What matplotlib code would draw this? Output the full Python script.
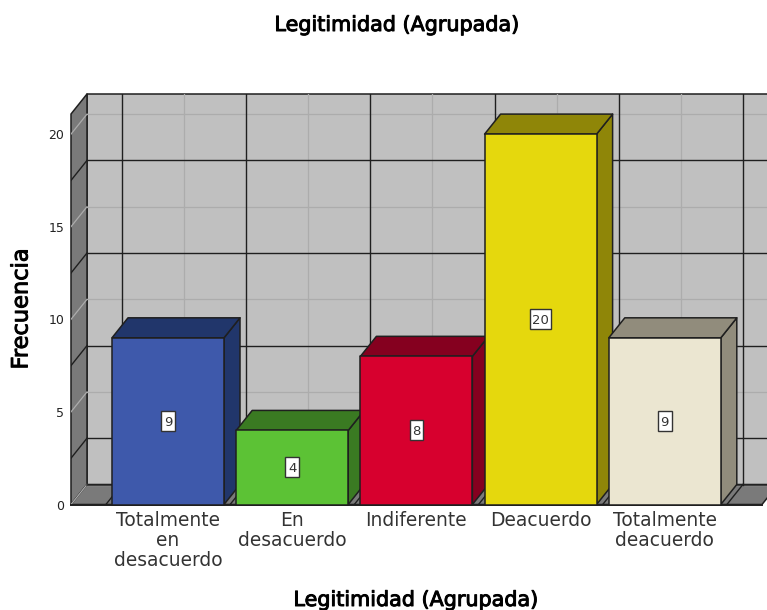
import matplotlib
matplotlib.use("Agg")
import matplotlib.pyplot as plt
import matplotlib.patheffects as pe
from matplotlib.patches import Polygon, Rectangle

# ----------- Data ------------
categories = ["Totalmente\nen\ndesacuerdo", "En\ndesacuerdo", "Indiferente", "Deacuerdo", "Totalmente\ndeacuerdo"]
counts = [9, 4, 8, 20, 9]
front_colors = ["#3e59ab", "#5cc235", "#d7002e", "#e5d80d", "#ebe6d1"]
side_colors = ["#21366b", "#3a7a22", "#85001f", "#8f8608", "#918c7c"]
y_ticks = [0, 5, 10, 15, 20]
y_minor = [2.5, 7.5, 12.5, 17.5]
# -----------------------------

W, H = 767, 610
PX_X = 124.2   # pixels per category
PX_Y = 18.52   # pixels per count
DX = 16 / PX_X  # depth of the 3d effect in data units
DY = 20 / PX_Y
BAR_W = 112 / PX_X
X_MIN = (71 - 168) / PX_X
X_MAX = (767 - 168) / PX_X
Y_MAX = 410.5 / PX_Y
TOP = Y_MAX - DY
FLOOR_END = (762 - 168) / PX_X
DARK = "#1f1f1f"
LIGHT = "#acacac"

fig = plt.figure(figsize=(W / 100, H / 100), dpi=100)
ax = fig.add_axes([71 / W, (H - 504.5) / H, (W - 71) / W, 410.5 / H])
ax.set_xlim(X_MIN, X_MAX)
ax.set_ylim(0, Y_MAX)
for s in ax.spines.values():
    s.set_visible(False)


def face(pts, color, z=1, edge=DARK, lw=1.1):
    ax.add_patch(Polygon(pts, closed=True, facecolor=color, edgecolor=edge, linewidth=lw,
                         zorder=z, clip_on=False, joinstyle="round"))


# walls
back_l = X_MIN + DX
face([(back_l, DY), (X_MAX + 1, DY), (X_MAX + 1, Y_MAX), (back_l, Y_MAX)], "#c0c0c0", 1)
face([(X_MIN, 0), (back_l, DY), (back_l, Y_MAX), (X_MIN, TOP)], "#7a7a7a", 1)
face([(X_MIN, 0), (FLOOR_END, 0), (FLOOR_END + DX, DY), (back_l, DY)], "#7a7a7a", 1)

# grid on the back wall, side wall and floor
for i in range(len(categories)):
    ax.plot([i + DX] * 2, [DY, Y_MAX], color=LIGHT, lw=0.9, zorder=2)
for v in y_ticks:
    ax.plot([back_l, X_MAX], [v + DY] * 2, color=LIGHT, lw=0.9, zorder=2)
    ax.plot([X_MIN, back_l], [v, v + DY], color=LIGHT, lw=0.9, zorder=2)
for i in range(len(categories) + 1):
    x = i - 0.5 + DX
    ax.plot([x, x], [DY, Y_MAX], color=DARK, lw=1.0, zorder=2.1)
    ax.plot([x - DX, x], [0, DY], color=DARK, lw=1.0, zorder=2.1)
for v in y_minor:
    ax.plot([back_l, X_MAX], [v + DY] * 2, color=DARK, lw=1.0, zorder=2.1)
    ax.plot([X_MIN, back_l], [v, v + DY], color=DARK, lw=1.0, zorder=2.1)
ax.plot([back_l, X_MAX], [DY, DY], color=DARK, lw=1.1, zorder=2.1)
ax.plot([X_MIN, FLOOR_END], [0, 0], color=DARK, lw=1.4, zorder=2.5, clip_on=False)

# bars
for i, (v, fc, sc) in enumerate(zip(counts, front_colors, side_colors)):
    l, r = i - BAR_W / 2, i + BAR_W / 2
    face([(r, 0), (r + DX, DY), (r + DX, v + DY), (r, v)], sc, 3 + i)
    face([(l, v), (r, v), (r + DX, v + DY), (l + DX, v + DY)], sc, 3 + i)
    face([(l, 0), (r, 0), (r, v), (l, v)], fc, 3 + i)
    # value label box, narrow and tall
    bw = (13.5 + 7.5 * (len(str(v)) - 1)) / PX_X
    bh = 20 / PX_Y
    ax.add_patch(Rectangle((i - bw / 2, v / 2 - bh / 2), bw, bh, facecolor="white", edgecolor="#333333",
                           linewidth=1.0, zorder=19))
    ax.text(i, v / 2, str(v), ha="center", va="center_baseline", fontsize=9.5, color="#333333", zorder=20)

ax.set_xticks(range(len(categories)))
ax.set_xticklabels(categories, fontsize=13.4, color="#333333", linespacing=1.05)
ax.set_yticks(y_ticks)
ax.tick_params(axis="x", length=0, pad=5)
ax.tick_params(axis="y", length=0, pad=5, labelsize=9, labelcolor="#222222")

stroke = [pe.withStroke(linewidth=0.7, foreground="black")]
fig.text(396.5 / W, 1 - 25 / H, "Legitimidad (Agrupada)", ha="center", va="center", fontsize=14.9, path_effects=stroke)
fig.text(415.5 / W, 1 - 600 / H, "Legitimidad (Agrupada)", ha="center", va="center", fontsize=14.9, path_effects=stroke)
fig.text(21.5 / W, 1 - 309 / H, "Frecuencia", ha="center", va="center", rotation=90, fontsize=16.2, path_effects=stroke)

fig.savefig("out.png", dpi=100)
